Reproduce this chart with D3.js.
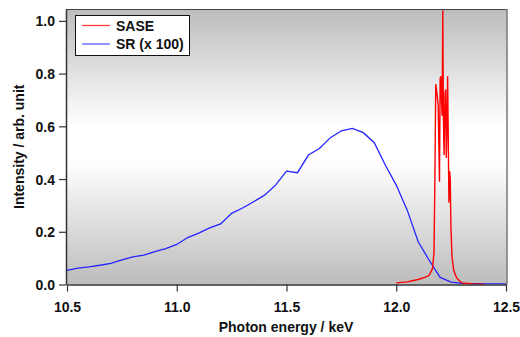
<!DOCTYPE html>
<html><head><meta charset="utf-8">
<script src="https://cdn.jsdelivr.net/npm/d3@7"></script>
<style>
html,body{margin:0;padding:0;background:#fff;}
svg text{font-family:"Liberation Sans",Arial,sans-serif;font-weight:bold;fill:#111;}
</style></head>
<body><svg id="c" width="520" height="337"></svg>
<script>
// SR (x 100) spectrum
const srEnergy = [10.5,10.55,10.6,10.65,10.7,10.75,10.8,10.85,10.9,10.95,11.0,11.05,11.1,11.15,11.2,11.25,11.3,11.35,11.4,11.45,11.5,11.55,11.6,11.65,11.7,11.75,11.8,11.85,11.9,11.95,12.0,12.05,12.1,12.15,12.2,12.25,12.3,12.35,12.4,12.45,12.5];
const srValue  = [0.054,0.062,0.067,0.073,0.080,0.093,0.105,0.111,0.125,0.136,0.152,0.178,0.195,0.215,0.230,0.270,0.290,0.314,0.339,0.377,0.430,0.424,0.491,0.516,0.557,0.583,0.592,0.576,0.538,0.453,0.377,0.282,0.162,0.092,0.027,0.009,0.004,0.003,0.002,0.002,0.002];
// SASE spectrum
const saseEnergy = [12.00,12.05,12.10,12.13,12.15,12.165,12.172,12.176,12.180,12.186,12.191,12.197,12.200,12.203,12.206,12.209,12.212,12.215,12.218,12.222,12.225,12.228,12.231,12.234,12.237,12.240,12.243,12.246,12.249,12.254,12.262,12.270,12.277,12.290,12.300,12.350,12.400];
const saseValue  = [0.006,0.010,0.019,0.027,0.035,0.060,0.120,0.400,0.760,0.720,0.680,0.390,0.780,0.790,0.700,0.640,1.040,0.620,0.490,0.720,0.740,0.480,0.600,0.790,0.550,0.310,0.430,0.400,0.220,0.105,0.054,0.035,0.023,0.012,0.006,0.002,0.001];
const xTicks = [10.5,11.0,11.5,12.0,12.5];
const yTicks = [0.0,0.2,0.4,0.6,0.8,1.0];
const seriesNames = ["SASE","SR (x 100)"];
const seriesColors = ["#ff0000","#2424ff"];

const svg = d3.select("#c");
const L=66, R=506, T=9, B=284.5;
const x = d3.scaleLinear().domain([10.5,12.5]).range([L+1,R]);
const y = d3.scaleLinear().domain([0,1.045]).range([B,T]);

const defs = svg.append("defs");
const g = defs.append("linearGradient").attr("id","bg").attr("x1",0).attr("y1",0).attr("x2",0).attr("y2",1);
[[0,"#bcbcbc"],[0.42,"#ffffff"],[0.56,"#ffffff"],[1,"#bcbcbc"]].forEach(s=>g.append("stop").attr("offset",s[0]).attr("stop-color",s[1]));
defs.append("clipPath").attr("id","clip").append("rect").attr("x",L).attr("y",T).attr("width",R-L+1).attr("height",B-T);

svg.append("rect").attr("x",L).attr("y",T).attr("width",R-L+1).attr("height",B-T).attr("fill","url(#bg)");

const line = d3.line().x(d=>x(d[0])).y(d=>y(d[1]));
const plot = svg.append("g").attr("clip-path","url(#clip)");
plot.append("path").datum(srEnergy.map((e,i)=>[e,srValue[i]])).attr("d",line)
  .attr("fill","none").attr("stroke",seriesColors[1]).attr("stroke-width",1.3);
plot.append("path").datum(saseEnergy.map((e,i)=>[e,saseValue[i]])).attr("d",line)
  .attr("fill","none").attr("stroke",seriesColors[0]).attr("stroke-width",1.4).attr("stroke-linejoin","miter");

// frame
svg.append("line").attr("x1",L).attr("x2",R+1).attr("y1",T+0.5).attr("y2",T+0.5).attr("stroke","#444").attr("stroke-width",1);
svg.append("line").attr("x1",R+1).attr("x2",R+1).attr("y1",T).attr("y2",B).attr("stroke","#777").attr("stroke-width",1.5);

// axes
const xAxis = svg.append("g").attr("transform",`translate(0,${B})`)
  .call(d3.axisBottom(x).tickValues(xTicks).tickFormat(d3.format(".1f")).tickSize(7).tickSizeOuter(0));
const yAxis = svg.append("g").attr("transform",`translate(${L},0)`)
  .call(d3.axisLeft(y).tickValues(yTicks).tickFormat(d3.format(".1f")).tickSize(7).tickSizeOuter(0));
[xAxis,yAxis].forEach(a=>{
  a.select(".domain").attr("stroke","#333").attr("stroke-width",1.5);
  a.selectAll(".tick line").attr("stroke","#333").attr("stroke-width",1.2);
  a.selectAll(".tick text").attr("font-size",14).attr("font-family","Liberation Sans, Arial, sans-serif").attr("font-weight","bold").attr("fill","#111");
});
xAxis.selectAll(".tick text").attr("dy",null).attr("y",27);
yAxis.selectAll(".tick text").attr("x",-11).attr("dy","0.36em");

svg.append("text").attr("x",(L+R)/2).attr("y",332).attr("text-anchor","middle").attr("font-size",14).text("Photon energy / keV");
svg.append("text").attr("transform",`translate(24,${(T+B)/2}) rotate(-90)`).attr("text-anchor","middle").attr("font-size",14).text("Intensity / arb. unit");

// legend
const lg = svg.append("g");
lg.append("rect").attr("x",75.5).attr("y",15.5).attr("width",114).attr("height",40).attr("fill","#fff").attr("stroke","#111").attr("stroke-width",1);
seriesNames.forEach((n,i)=>{
  const yy = 25.5 + i*18.5;
  lg.append("line").attr("x1",82).attr("x2",110).attr("y1",yy).attr("y2",yy).attr("stroke",seriesColors[i]).attr("stroke-width",1.3).attr("opacity",0.75);
  lg.append("text").attr("x",116).attr("y",yy+5).attr("font-size",14).text(n);
});
</script></body></html>
